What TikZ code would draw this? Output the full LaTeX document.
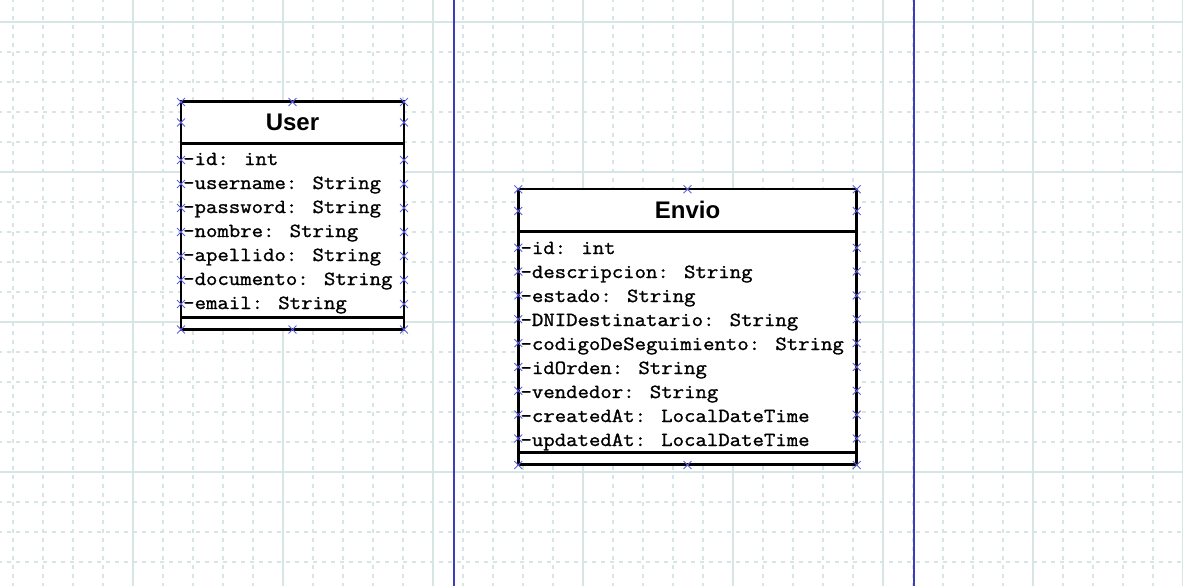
\documentclass[tikz,border=0pt]{standalone}
\usepackage{fontspec}
\setmainfont{Liberation Sans}
\newfontfamily\umlmono{Latin Modern Mono}[FakeStretch=1.108,FakeBold=1.2]
\newfontfamily\umltitle{Liberation Sans}
\usetikzlibrary{shapes.misc}
\definecolor{gridc}{RGB}{216,229,229}
\definecolor{sepblue}{RGB}{60,60,190}
\definecolor{handlec}{RGB}{95,95,225}
\begin{document}
\begin{tikzpicture}[x=1pt,y=-1pt,
  minorgrid/.style={gridc, line width=1.2pt, dash pattern=on 4pt off 5pt},
  majorgrid/.style={gridc, line width=1.2pt},
  lane/.style={sepblue, line width=1.5pt},
  compart/.style={draw=black, fill=white, line width=2.5pt, inner sep=0pt, outer sep=0pt, rectangle, anchor=north west},
  umltitlestyle/.style={font=\umltitle\bfseries\fontsize{24}{28}\selectfont, inner sep=0pt},
  attr/.style={font=\umlmono\fontsize{20}{24}\selectfont, inner sep=0pt, anchor=base west},
  handlemark/.style={cross out, draw=handlec, line width=0.9pt, minimum size=7pt, inner sep=0pt},
]
\useasboundingbox (0,0) rectangle (1183,586);
\clip (0,0) rectangle (1183,586);
\fill[white] (0,0) rectangle (1183,586);

% grid
\foreach \k in {0,...,39} \draw[minorgrid] ({13+30*\k},-2) -- ({13+30*\k},600);
\foreach \k in {0,...,18} \draw[minorgrid] (-2,{22+30*\k}) -- (1200,{22+30*\k});
\foreach \x in {133,283,...,1183} \draw[majorgrid] (\x,0) -- (\x,586);
\foreach \y in {22,172,322,472} \draw[majorgrid] (0,\y) -- (1183,\y);

% lanes
\coordinate (laneAtop) at (454,0);
\coordinate (laneAbot) at (454,586);
\coordinate (laneBtop) at (914,0);
\coordinate (laneBbot) at (914,586);
\draw[lane] (laneAtop) -- (laneAbot);
\draw[lane] (laneBtop) -- (laneBbot);

% User class
\node[compart, minimum width=223pt, minimum height=41.8pt] (userhead) at (181,101.5) {};
\node[umltitlestyle] (usertitle) at (userhead.center) {User};
\node[compart, minimum width=223pt, minimum height=174.4pt] (userattrs) at (userhead.south west) {};
\node[compart, minimum width=223pt, minimum height=11.6pt] (userops) at (userattrs.south west) {};
\foreach \t [count=\i] in {{-id: int},{-username: String},{-password: String},{-nombre: String},{-apellido: String},{-documento: String},{-email: String}}
  \node[attr] (userattr\i) at (183,{165+24*(\i-1)}) {\t};

% Envio class
\node[compart, minimum width=338.4pt, minimum height=42.7pt] (enviohead) at (518.3,189) {};
\node[umltitlestyle] (enviotitle) at (enviohead.center) {Envio};
\node[compart, minimum width=338.4pt, minimum height=221pt] (envioattrs) at (enviohead.south west) {};
\node[compart, minimum width=338.4pt, minimum height=11.6pt] (envioops) at (envioattrs.south west) {};
\foreach \t [count=\i] in {{-id: int},{-descripcion: String},{-estado: String},{-DNIDestinatario: String},{-codigoDeSeguimiento: String},{-idOrden: String},{-vendedor: String},{-createdAt: LocalDateTime},{-updatedAt: LocalDateTime}}
  \node[attr] (envioattr\i) at (520.3,{254+24*(\i-1)}) {\t};

% selection handles
\foreach \p [count=\i] in {(181,102),(292.5,102),(404,102),(181,122.5),(404,122.5),(181,329.5),(292.5,329.5),(404,329.5)}
  \node[handlemark] (uh\i) at \p {};
\foreach \k in {0,...,6} {
  \node[handlemark] (ul\k) at (181,{160+24*\k}) {};
  \node[handlemark] (ur\k) at (404,{160+24*\k}) {};
}
\foreach \p [count=\i] in {(518.3,189.3),(687.5,189.3),(856.7,189.3),(518.3,211),(856.7,211),(518.3,465),(687.5,465),(856.7,465)}
  \node[handlemark] (eh\i) at \p {};
\foreach \k in {0,...,8} {
  \node[handlemark] (el\k) at (518.3,{247.7+23.85*\k}) {};
  \node[handlemark] (er\k) at (856.7,{247.7+23.85*\k}) {};
}
\end{tikzpicture}
\end{document}
